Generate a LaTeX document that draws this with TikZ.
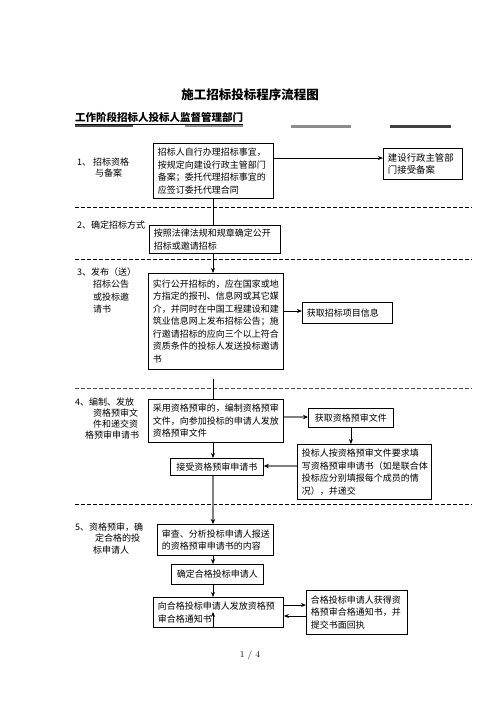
\documentclass[tikz,border=0pt]{standalone}
\usepackage{fontspec}
\newfontfamily\cjk{Noto Sans CJK SC}
\usetikzlibrary{arrows.meta,calc}
\newcommand\boxfont{\cjk\fontsize{9}{12.5}\selectfont}
\newcommand\labfont{\cjk\fontsize{9}{11.2}\selectfont}
\tikzset{
  box/.style={draw, line width=0.9pt, inner xsep=4.5pt, inner ysep=1pt, align=left, font=\boxfont, anchor=north west},
  lab/.style={inner sep=0pt, align=left, font=\labfont, anchor=north west},
  arr/.style={-{Stealth[length=5pt,width=4pt]}, line width=0.9pt},
  garr/.style={-{Stealth[length=5pt,width=4.5pt,color=black]}, line width=1.7pt, draw=black!50},
  gline/.style={line width=1.5pt, draw=black!55},
  sep/.style={line width=0.7pt, dash pattern=on 4pt off 2pt},
}
\begin{document}
\begin{tikzpicture}[x=1pt,y=-1pt]
\useasboundingbox[fill=white] (0,0) rectangle (496,702);

% title and header
\node[font=\cjk\bfseries\fontsize{12.5}{14}\selectfont, inner sep=0pt] (title) at (250,95) {施工招标投标程序流程图};
\node[font=\cjk\bfseries\fontsize{10.5}{12}\selectfont, inner sep=0pt, anchor=west] (head) at (75,117) {工作阶段招标人投标人监督管理部门};
\draw[line width=0.6pt] (75,124) -- (243,124);
\draw[line width=2.6pt, black!70] (75,126) -- (133,126);
\draw[line width=2.4pt, black!45] (185,126) -- (243,126);
\draw[line width=2.4pt, black!45] (291,126.5) -- (351,126.5);
\draw[line width=2.6pt, black!75] (390,126.5) -- (451,126.5);

% separators
\draw[sep] (75,207) -- (472,207);
\draw[sep] (75,259) -- (472,259);
\draw[sep, black!70] (75,388) -- (472,388);
\draw[sep] (75,504) -- (472,504);

% stage labels
\node[lab] (l1) at (77,157.5) {1、 招标资格\\\hspace{18pt}与备案};
\node[lab] (l2) at (77,220.5) {2、确定招标方式};
\node[lab, font=\cjk\fontsize{9}{12.4}\selectfont] (l3) at (77,267.5) {3、发布（送）\\\hspace{16pt}招标公告\\\hspace{16pt}或投标邀\\\hspace{16pt}请书};
\node[lab, font=\cjk\fontsize{9}{11}\selectfont] (l4) at (75,397.5) {4、编制、发放\\\hspace{18pt}资格预审文\\\hspace{18pt}件和递交资\\\hspace{10pt}格预审申请书};
\node[lab, font=\cjk\fontsize{9}{11.5}\selectfont] (l5) at (75,522.5) {5、资格预审，确\\\hspace{20pt}定合格的投\\\hspace{18pt}标申请人};

% boxes
\node[box, text width=111pt, minimum height=55pt] (b1) at (153,143) {招标人自行办理招标事宜，\\按规定向建设行政主管部门\\备案；委托代理招标事宜的\\应签订委托代理合同};
\node[box, text width=70pt, minimum height=31pt, font=\cjk\fontsize{9.4}{12.5}\selectfont] (r1) at (383,148) {建设行政主管部\\门接受备案};
\node[box, text width=122pt, minimum height=28pt] (b2) at (149,225) {按照法律法规和规章确定公开\\招标或邀请招标};
\node[box, text width=126pt, minimum height=96pt] (b3) at (148,273) {实行公开招标的，应在国家或地\\方指定的报刊、信息网或其它媒\\介，并同时在中国工程建设和建\\筑业信息网上发布招标公告；施\\行邀请招标的应向三个以上符合\\资质条件的投标人发送投标邀请\\书};
\node[box, text width=81pt, minimum height=21pt] (r3) at (302,302) {获取招标项目信息};
\node[box, text width=126pt, minimum height=43pt] (b4) at (148,399) {采用资格预审的，编制资格预审\\文件，向参加投标的申请人发放\\资格预审文件};
\node[box, text width=76pt, minimum height=19pt, align=center] (r4a) at (308,408) {获取资格预审文件};
\node[box, text width=125pt, minimum height=55pt] (r4b) at (297,444) {投标人按资格预审文件要求填\\写资格预审申请书（如是联合体\\投标应分别填报每个成员的情\\况），并递交};
\node[box, text width=84pt, minimum height=17pt, align=center] (b4c) at (170,458) {接受资格预审申请书};
\node[box, text width=107pt, minimum height=31pt] (b5) at (157,524) {审查、分析投标申请人报送\\的资格预审申请书的内容};
\node[box, text width=83pt, minimum height=20pt, align=center] (b6) at (171,564) {确定合格投标申请人};
\node[box, text width=121pt, minimum height=30pt] (b7) at (153,597) {向合格投标申请人发放资格预\\审合格通知书};
\node[box, text width=92pt, minimum height=44pt] (r8) at (306,590) {合格投标申请人获得资\\格预审合格通知书，并\\提交书面回执};

\node[font=\fontsize{9}{11}\selectfont, inner sep=0pt] (page) at (250,655) {1 / 4};

% helper coordinates
\coordinate (y1) at (0,158);
\coordinate (y3) at (0,311);
\coordinate (y4) at (0,417);
\coordinate (y4b) at (0,466);
\coordinate (y8a) at (0,605);
\coordinate (y8b) at (0,616);
\coordinate (c3) at (213,379);
\coordinate (x0) at (213,0);
\coordinate (endb7) at ($(b7.south)+(0,-16)$);

% connectors
\draw[arr] (b1.east |- y1) -- (r1.west |- y1);
\draw[line width=0.9pt] (b1.south -| x0) -- (b2.north -| x0);
\draw[arr] (b2.south -| x0) -- (b3.north -| x0);
\draw[arr] (b3.east |- y3) -- (r3.west |- y3);
\draw[line width=0.9pt] (c3) -- (b4.north -| c3);
\draw[garr] (b4.east |- y4) -- (r4a.west |- y4);
\draw[arr] (r4a.south) -- (r4a.south |- r4b.north);
\draw[arr] (b4.south -| x0) -- (b4c.north -| x0);
\draw[garr] (r4b.west |- y4b) -- (b4c.east |- y4b);
\draw[garr] (b4c.south -| x0) -- (b5.north -| x0);
\draw[arr] (b5.south -| x0) -- (b6.north -| x0);
\draw[arr] (b6.south -| x0) -- (b7.north -| x0);
\draw[arr] (b7.east |- y8a) -- (r8.west |- y8a);
\draw[arr] (r8.west |- y8b) -- (b7.east |- y8b);
\draw[arr] (b7.south -| x0) -- (endb7 -| x0);
\end{tikzpicture}
\end{document}
